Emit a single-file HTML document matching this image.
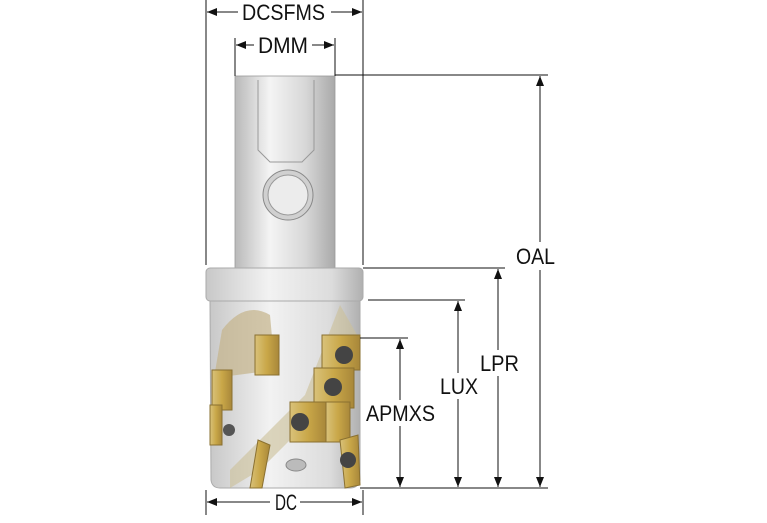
<!DOCTYPE html>
<html><head><meta charset="utf-8"><style>
html,body{margin:0;padding:0;background:#fff;width:767px;height:523px;overflow:hidden}
svg text{font-family:"Liberation Sans",sans-serif;font-size:22px;fill:#111}
</style></head><body>
<svg width="767" height="523" viewBox="0 0 767 523" xmlns="http://www.w3.org/2000/svg">
<defs>
<linearGradient id="sh" x1="0" x2="1"><stop offset="0" stop-color="#b9b9b9"/><stop offset="0.35" stop-color="#f4f4f4"/><stop offset="0.7" stop-color="#d8d8d8"/><stop offset="1" stop-color="#a9a9a9"/></linearGradient>
<linearGradient id="hd" x1="0" x2="1"><stop offset="0" stop-color="#c8c8c8"/><stop offset="0.4" stop-color="#f2f2f2"/><stop offset="0.8" stop-color="#dcdcdc"/><stop offset="1" stop-color="#b0b0b0"/></linearGradient>
<linearGradient id="gd" x1="0" x2="1"><stop offset="0" stop-color="#d9c27a"/><stop offset="0.5" stop-color="#c9a748"/><stop offset="1" stop-color="#a8873a"/></linearGradient>
<marker id="a" viewBox="0 0 10 10" refX="10" refY="5" markerWidth="10" markerHeight="10" orient="auto-start-reverse" markerUnits="userSpaceOnUse"><path d="M0,1 L10,5 L0,9 z" fill="#111"/></marker>
</defs>
<rect x="235" y="76" width="100" height="192" fill="url(#sh)" stroke="#999" stroke-width="0.8"/>
<path d="M258 80 L258 150 L270 162 L302 162 L314 150 L314 80" fill="none" stroke="#999"/>
<circle cx="288" cy="195" r="25" fill="#d0d0d0" stroke="#888"/>
<circle cx="288" cy="195" r="20" fill="#ececec" stroke="#999"/>
<rect x="206" y="268" width="157" height="33" rx="4" fill="url(#hd)" stroke="#aaa"/>
<path d="M210 301 L360 301 L360 480 Q358 488 350 488 L220 488 Q212 488 211 480 Z" fill="url(#hd)" stroke="#aaa"/>
<path d="M222 330 Q245 300 270 315 L275 370 L214 378 Z" fill="#c4b48a" opacity="0.7"/>
<path d="M340 305 L305 395 L230 470 L230 488 L260 470 L330 400 L360 340 Z" fill="#cbbf98" opacity="0.6"/>
<rect x="255" y="335" width="24" height="40" fill="url(#gd)" stroke="#8a7030"/>
<rect x="212" y="370" width="20" height="40" fill="url(#gd)" stroke="#8a7030"/>
<rect x="210" y="405" width="12" height="40" fill="url(#gd)" stroke="#8a7030"/>
<rect x="322" y="335" width="38" height="35" fill="url(#gd)" stroke="#8a7030"/>
<rect x="314" y="368" width="40" height="40" fill="url(#gd)" stroke="#8a7030"/>
<rect x="290" y="402" width="36" height="40" fill="url(#gd)" stroke="#8a7030"/>
<rect x="326" y="402" width="24" height="40" fill="url(#gd)" stroke="#8a7030"/>
<path d="M258 440 L270 445 L262 488 L250 488 Z" fill="url(#gd)" stroke="#8a7030"/>
<path d="M340 440 L358 435 L360 485 L345 488 Z" fill="url(#gd)" stroke="#8a7030"/>
<circle cx="344" cy="355" r="9" fill="#444"/><circle cx="333" cy="387" r="9" fill="#444"/><circle cx="300" cy="422" r="9" fill="#444"/><circle cx="348" cy="460" r="8" fill="#444"/>
<circle cx="229" cy="430" r="6" fill="#555"/><ellipse cx="296" cy="465" rx="10" ry="6" fill="#bbb" stroke="#888"/>
<g stroke="#111" stroke-width="1" fill="none">
<line x1="206" y1="0" x2="206" y2="265"/><line x1="363" y1="0" x2="363" y2="265"/>
<line x1="207" y1="12" x2="238" y2="12" marker-start="url(#a)"/><line x1="331" y1="12" x2="362" y2="12" marker-end="url(#a)"/>
<line x1="235" y1="38" x2="235" y2="76"/><line x1="335" y1="38" x2="335" y2="76"/>
<line x1="236" y1="45" x2="254" y2="45" marker-start="url(#a)"/><line x1="312" y1="45" x2="334" y2="45" marker-end="url(#a)"/>
<line x1="335" y1="75" x2="548" y2="75"/>
<line x1="363" y1="268" x2="505" y2="268"/>
<line x1="368" y1="300" x2="465" y2="300"/>
<line x1="360" y1="338" x2="408" y2="338"/>
<line x1="360" y1="488" x2="548" y2="488"/>
<line x1="540" y1="76" x2="540" y2="242" marker-start="url(#a)"/><line x1="540" y1="270" x2="540" y2="487" marker-end="url(#a)"/>
<line x1="498" y1="269" x2="498" y2="350" marker-start="url(#a)"/><line x1="498" y1="376" x2="498" y2="487" marker-end="url(#a)"/>
<line x1="458" y1="301" x2="458" y2="373" marker-start="url(#a)"/><line x1="458" y1="399" x2="458" y2="487" marker-end="url(#a)"/>
<line x1="400" y1="339" x2="400" y2="400" marker-start="url(#a)"/><line x1="400" y1="426" x2="400" y2="487" marker-end="url(#a)"/>
<line x1="206" y1="490" x2="206" y2="515"/><line x1="363" y1="490" x2="363" y2="515"/>
<line x1="207" y1="502" x2="270" y2="502" marker-start="url(#a)"/><line x1="300" y1="502" x2="362" y2="502" marker-end="url(#a)"/>
</g>
<text x="242" y="20" textLength="83" lengthAdjust="spacingAndGlyphs">DCSFMS</text>
<text x="258" y="53" textLength="50" lengthAdjust="spacingAndGlyphs">DMM</text>
<text x="516" y="264" textLength="39" lengthAdjust="spacingAndGlyphs">OAL</text>
<text x="480" y="371" textLength="39" lengthAdjust="spacingAndGlyphs">LPR</text>
<text x="440" y="394" textLength="38" lengthAdjust="spacingAndGlyphs">LUX</text>
<text x="366" y="421" textLength="69" lengthAdjust="spacingAndGlyphs">APMXS</text>
<text x="275" y="510" textLength="22" lengthAdjust="spacingAndGlyphs">DC</text>
</svg>
</body></html>
